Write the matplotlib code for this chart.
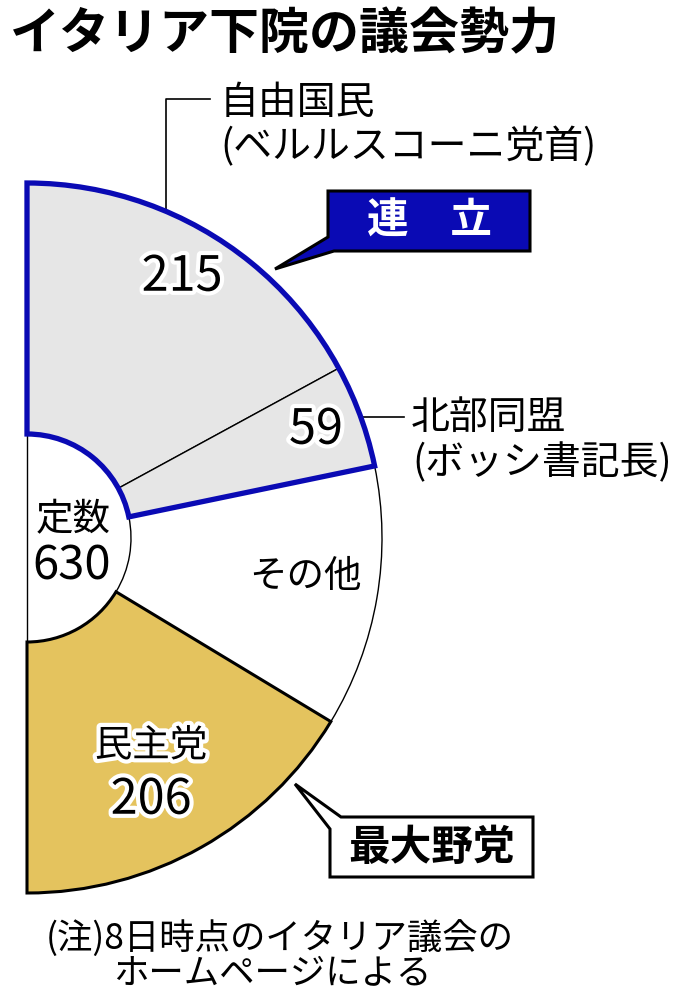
import matplotlib
matplotlib.use("Agg")
import matplotlib.pyplot as plt
from matplotlib.patches import Wedge, Polygon
import matplotlib.patheffects as pe

plt.rcParams['font.family'] = ['Noto Sans CJK JP', 'DejaVu Sans']

# data
title = 'イタリア下院の議会勢力'
parties = ['自由国民', '北部同盟', 'その他', '民主党']
leaders = ['(ベルルスコーニ党首)', '(ボッシ書記長)']
seats = [215, 59, 150, 206]
total_seats = 630
colors = ['#e6e6e6', '#e6e6e6', '#ffffff', '#e4c35e']
note = ['(注)8日時点のイタリア議会の', 'ホームページによる']

W, H = 696, 1004
fig = plt.figure(figsize=(W / 100, H / 100), dpi=100)
ax = fig.add_axes([0, 0, 1, 1])


def Y(y):
    # image pixel row -> data y
    return H - y


cx, cy = 27, Y(539)
R, r = 355, 104
blue = '#0a0ab4'
halo = [pe.withStroke(linewidth=6, foreground='white')]

# left edge of the half ring
ax.plot([cx, cx], [Y(185), Y(893)], color='black', lw=1, zorder=1)

# half donut: the hidden second half takes the other 180 degrees
wedges, _ = ax.pie(seats + [total_seats], colors=colors + ['none'],
                   startangle=90, counterclock=False, center=(cx, cy), radius=R,
                   wedgeprops=dict(width=R - r, linewidth=1, edgecolor='black'))
wedges[-1].set_visible(False)
wedges[3].set_linewidth(2.2)
for w in wedges:
    w.set_zorder(2)

# coalition outline around the first two parties
span = sum(seats[:2]) / total_seats * 180
ax.add_patch(Wedge((cx, cy), R, 90 - span, 90, width=R - r, fill=False,
                   edgecolor=blue, lw=3.8, joinstyle='miter', zorder=3))

ax.set_xlim(0, W)
ax.set_ylim(0, H)
ax.set_aspect('equal')
ax.axis('off')

# title
ax.text(10, Y(35), title, fontsize=36, fontweight='bold', va='center', ha='left')

# 自由国民 label with leader
ax.plot([166, 166, 210], [Y(212), Y(100), Y(100)], color='black', lw=1.2)
ax.text(220, Y(103), parties[0], fontsize=28, va='center', ha='left')
ax.text(220, Y(147), leaders[0], fontsize=28, va='center', ha='left')

# 北部同盟 label with leader
ax.plot([361, 404], [Y(418), Y(418)], color='black', lw=1.2)
ax.text(411, Y(418), parties[1], fontsize=28, va='center', ha='left')
ax.text(412, Y(463), leaders[1], fontsize=28, va='center', ha='left')

# values inside the ring
ax.text(182, Y(278), str(seats[0]), fontsize=35,
        ha='center', va='center', path_effects=halo, zorder=5)
ax.text(316, Y(431), str(seats[1]), fontsize=35,
        ha='center', va='center', path_effects=halo, zorder=5)
ax.text(305, Y(576), parties[2], fontsize=27, ha='center', va='center', zorder=5)
ax.text(151, Y(747), parties[3], fontsize=27, ha='center', va='center',
        path_effects=halo, zorder=5)
ax.text(151, Y(801), str(seats[3]), fontsize=35,
        ha='center', va='center', path_effects=halo, zorder=5)

# centre
ax.text(73, Y(520), '定数', fontsize=27, ha='center', va='center', zorder=5)
ax.text(72, Y(566), str(total_seats), fontsize=34,
        ha='center', va='center', zorder=5)

# 連立 callout
pts = [(328, 192), (530, 192), (530, 252), (334, 252), (275, 270), (328, 238)]
ax.add_patch(Polygon([(x, Y(y)) for x, y in pts], closed=True, facecolor=blue,
                     edgecolor='black', lw=2.2, joinstyle='miter', zorder=4))
ax.text(429, Y(222), '連\u3000立', fontsize=30, fontweight='bold', color='white',
        ha='center', va='center', zorder=5)

# 最大野党 callout
pts = [(341, 818), (533, 818), (533, 878), (330, 878), (330, 830), (295, 785)]
ax.add_patch(Polygon([(x, Y(y)) for x, y in pts], closed=True, facecolor='white',
                     edgecolor='black', lw=2.2, joinstyle='miter', zorder=4))
ax.text(431, Y(848), '最大野党', fontsize=30, fontweight='bold',
        ha='center', va='center', zorder=5)

# footnote
ax.text(46, Y(938), note[0], fontsize=25.5, ha='left', va='center')
ax.text(113, Y(973), note[1], fontsize=25.5, ha='left', va='center')

fig.savefig('out.png', dpi=100)
